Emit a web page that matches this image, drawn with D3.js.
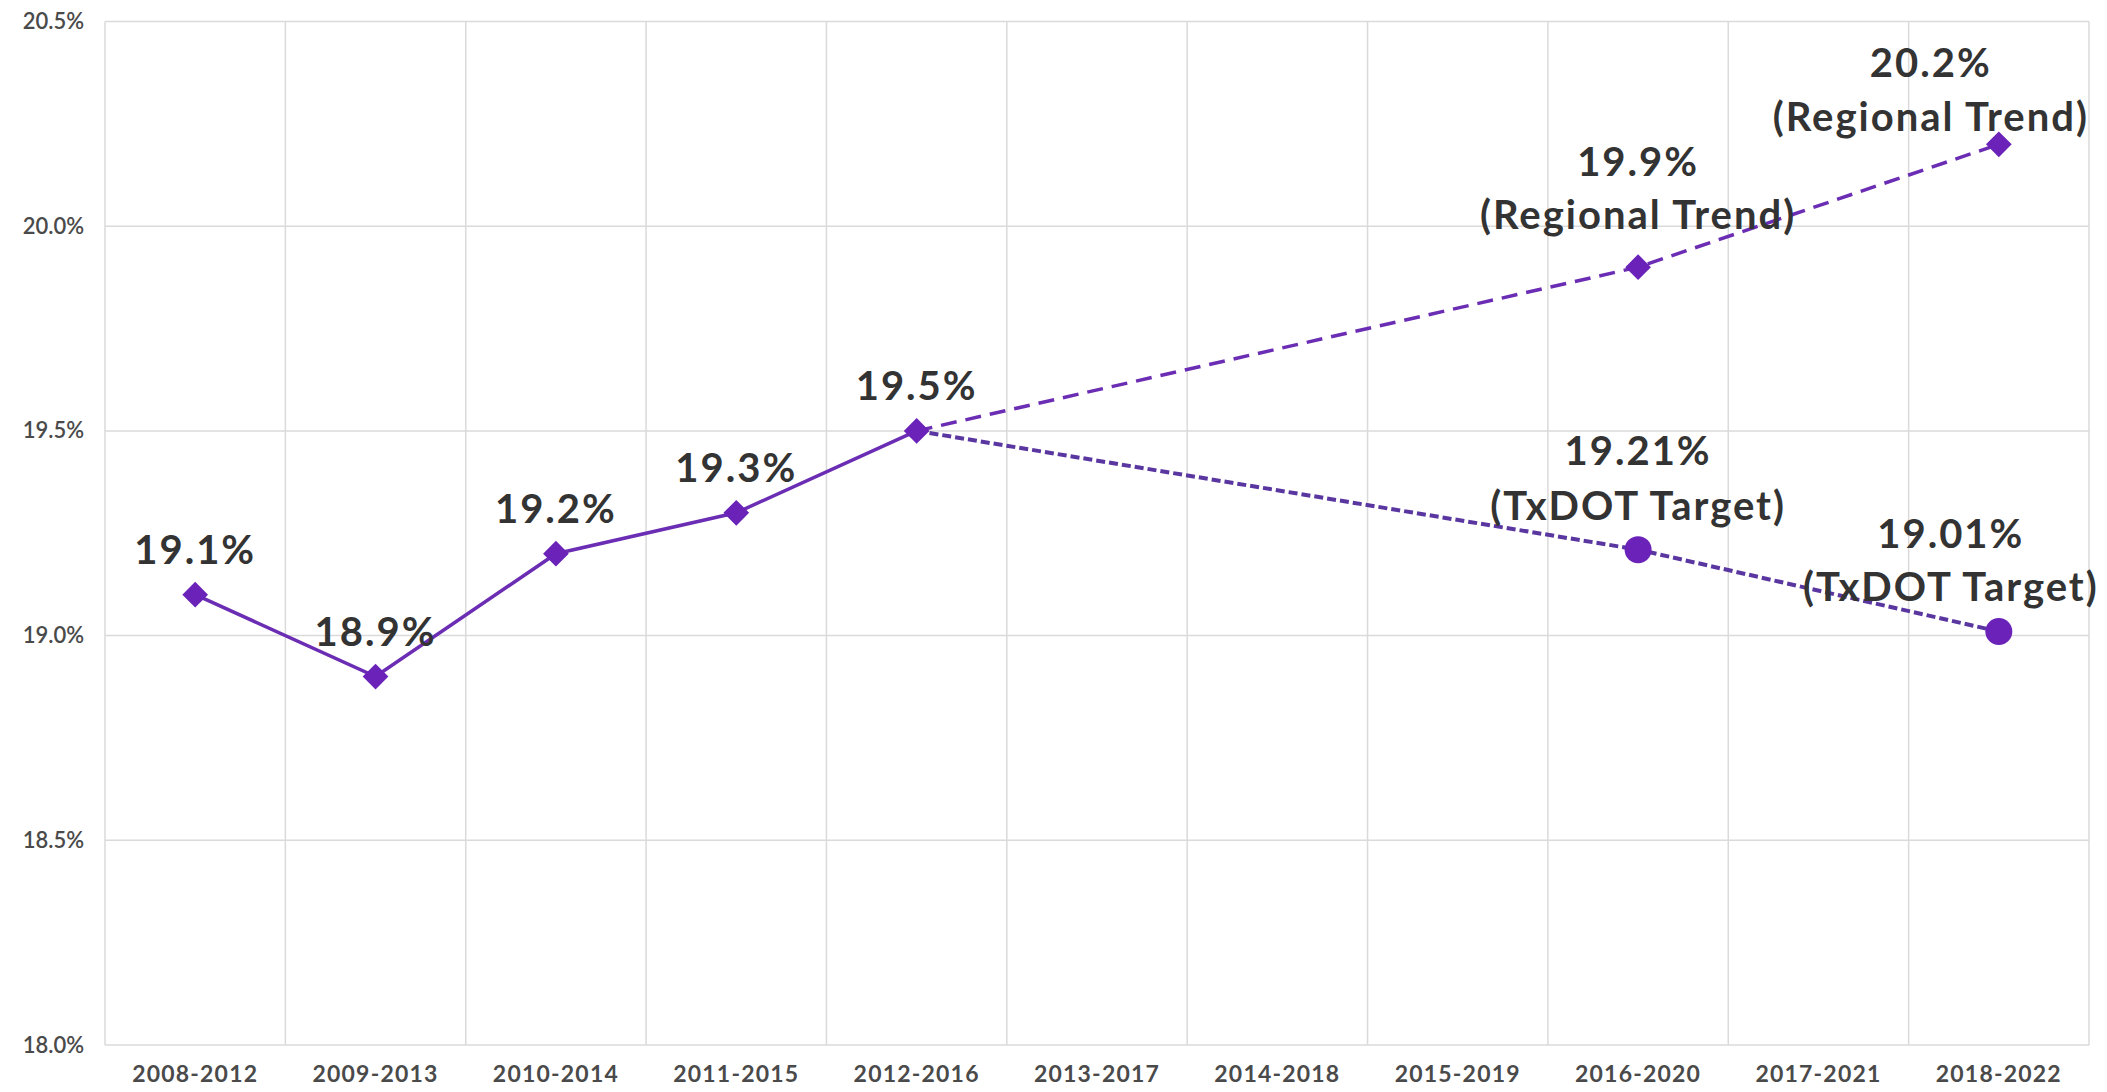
<!DOCTYPE html>
<html>
<head>
<meta charset="utf-8">
<script src="https://cdn.jsdelivr.net/npm/d3@7"></script>
<style>
  html, body { margin: 0; padding: 0; background: #ffffff; }
  svg { display: block; }
</style>
</head>
<body>
<svg id="chart" width="2107" height="1092"></svg>
<script>
// Five-year periods on the x axis
const categories = ["2008-2012", "2009-2013", "2010-2014", "2011-2015", "2012-2016",
  "2013-2017", "2014-2018", "2015-2019", "2016-2020", "2017-2021", "2018-2022"];

// Observed rates (percent)
const actualPeriods = ["2008-2012", "2009-2013", "2010-2014", "2011-2015", "2012-2016"];
const actualValues = [19.1, 18.9, 19.2, 19.3, 19.5];

// Projection following the regional trend
const trendPeriods = ["2012-2016", "2016-2020", "2018-2022"];
const trendValues = [19.5, 19.9, 20.2];

// Projection following the TxDOT target
const targetPeriods = ["2012-2016", "2016-2020", "2018-2022"];
const targetValues = [19.5, 19.21, 19.01];

// Y axis ticks (percent)
const yTicks = [18.0, 18.5, 19.0, 19.5, 20.0, 20.5];

const svg = d3.select("#chart");
const plot = { left: 105, right: 2089, top: 21.5, bottom: 1045 };
const purple = "#6b2db3";
const markerFill = "#6a22b8";
const textColor = "#333333";
const gridColor = "#dadada";

const x = d3.scaleBand().domain(categories).range([plot.left, plot.right]).paddingInner(0).paddingOuter(0);
const y = d3.scaleLinear().domain([18.0, 20.5]).range([plot.bottom, plot.top]);
const cx = c => x(c) + x.bandwidth() / 2;

// Horizontal gridlines
svg.append("g").selectAll("line").data(yTicks).join("line")
  .attr("x1", plot.left).attr("x2", plot.right)
  .attr("y1", d => y(d)).attr("y2", d => y(d))
  .attr("stroke", gridColor).attr("stroke-width", 1.5);

// Vertical gridlines at period boundaries
const boundaries = categories.map(c => x(c)).concat([plot.right]);
svg.append("g").selectAll("line").data(boundaries).join("line")
  .attr("x1", d => d).attr("x2", d => d)
  .attr("y1", plot.top).attr("y2", plot.bottom)
  .attr("stroke", gridColor).attr("stroke-width", 1.5);

// Y axis labels
const yAxis = d3.axisLeft(y).tickValues(yTicks).tickSize(0).tickPadding(0)
  .tickFormat(d => d3.format(".1f")(d) + "%");
const yg = svg.append("g").attr("transform", "translate(84,0)").call(yAxis);
yg.select(".domain").remove();
yg.selectAll("text")
  .attr("font-family", "Lato, 'Open Sans', sans-serif")
  .attr("font-size", 22).attr("font-weight", 600)
  .attr("fill", "#4a4a4a").attr("text-anchor", "end");

// X axis labels
const xAxis = d3.axisBottom(x).tickSize(0).tickPadding(0);
const xg = svg.append("g").attr("transform", "translate(0,1066)").call(xAxis);
xg.select(".domain").remove();
xg.selectAll("text")
  .attr("font-family", "Lato, 'Open Sans', sans-serif")
  .attr("font-size", 23).attr("font-weight", 700)
  .attr("letter-spacing", 1.2)
  .attr("fill", "#4a4a4a");

const line = d3.line().x(d => cx(d.c)).y(d => y(d.v));
const zip = (cs, vs) => cs.map((c, i) => ({ c, v: vs[i] }));

const actual = zip(actualPeriods, actualValues);
const trend = zip(trendPeriods, trendValues);
const target = zip(targetPeriods, targetValues);

// Projection lines
svg.append("path").datum(trend).attr("d", line)
  .attr("fill", "none").attr("stroke", purple).attr("stroke-width", 3.5)
  .attr("stroke-dasharray", "16 9");
svg.append("path").datum(target).attr("d", line)
  .attr("fill", "none").attr("stroke", "#5a36a0").attr("stroke-width", 4)
  .attr("stroke-dasharray", "9 4");

// Observed line
svg.append("path").datum(actual).attr("d", line)
  .attr("fill", "none").attr("stroke", purple).attr("stroke-width", 3.5);

// Markers: diamonds for observed and regional trend, circles for targets
svg.append("g").selectAll("path").data(actual.concat(trend.slice(1))).join("path")
  .attr("d", d3.symbol().type(d3.symbolSquare).size(330))
  .attr("transform", d => `translate(${cx(d.c)},${y(d.v)}) rotate(45)`)
  .attr("fill", markerFill);
svg.append("g").selectAll("circle").data(target.slice(1)).join("circle")
  .attr("cx", d => cx(d.c)).attr("cy", d => y(d.v)).attr("r", 13.5)
  .attr("fill", markerFill);

// Data labels
const labelFont = "Lato, 'Open Sans', sans-serif";
function addLabel(d, lines, dx, dys) {
  const g = svg.append("g");
  lines.forEach((t, i) => {
    g.append("text")
      .attr("x", cx(d.c) + dx).attr("y", y(d.v) + dys[i])
      .attr("text-anchor", "middle").attr("dominant-baseline", "central")
      .attr("font-family", labelFont).attr("font-size", 40).attr("font-weight", 700)
      .attr("letter-spacing", 2)
      .attr("fill", textColor)
      .text(t);
  });
}
const pct1 = v => d3.format(".1f")(v) + "%";
const pct2 = v => d3.format(".2f")(v) + "%";

actual.forEach(d => addLabel(d, [pct1(d.v)], 0, [-46]));
addLabel(trend[1], [pct1(trend[1].v), "(Regional Trend)"], 0, [-106, -53]);
addLabel(trend[2], [pct1(trend[2].v), "(Regional Trend)"], -68, [-82, -28]);
addLabel(target[1], [pct2(target[1].v), "(TxDOT Target)"], 0, [-100, -45]);
addLabel(target[2], [pct2(target[2].v), "(TxDOT Target)"], -48, [-99, -46]);
</script>
</body>
</html>
